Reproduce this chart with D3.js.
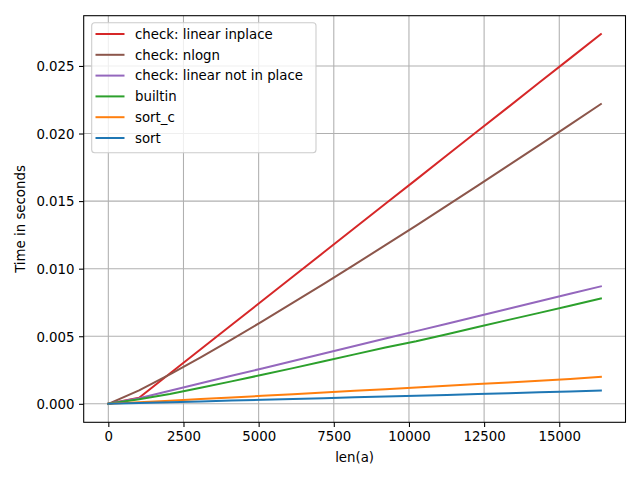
<!DOCTYPE html>
<html>
<head>
<meta charset="utf-8">
<script src="https://cdn.jsdelivr.net/npm/d3@7"></script>
<style>
  html, body { margin: 0; padding: 0; background: #fff; }
  svg { display: block; }
  text { font-family: "DejaVu Sans", sans-serif; }
</style>
</head>
<body>
<svg id="chart" width="640" height="480"></svg>
<script>
// ---- data ----
const sizes = [0, 1024, 2048, 3072, 4096, 5120, 6144, 7168, 8192, 9216, 10240, 11264, 12288, 13312, 14336, 15360, 16384];
const linearInplace = [0, 0.00045, 0.00224, 0.00404, 0.00583, 0.00762, 0.00942, 0.01121, 0.01301, 0.01480, 0.01659, 0.01839, 0.02018, 0.02197, 0.02377, 0.02556, 0.02735];
const nlogn = [0, 0.00099, 0.00218, 0.00344, 0.00475, 0.00610, 0.00748, 0.00888, 0.01030, 0.01174, 0.01319, 0.01466, 0.01614, 0.01764, 0.01914, 0.02066, 0.02218];
const linearNotInPlace = [0, 0.00041, 0.00096, 0.00152, 0.00207, 0.00262, 0.00317, 0.00372, 0.00428, 0.00483, 0.00538, 0.00593, 0.00648, 0.00704, 0.00759, 0.00814, 0.00869];
const builtin = [0, 0.00033, 0.00073, 0.00119, 0.00166, 0.00215, 0.00264, 0.00315, 0.00366, 0.00417, 0.00463, 0.00515, 0.00568, 0.00621, 0.00673, 0.00726, 0.00779];
const sortC = [0, 0.00011, 0.00023, 0.00035, 0.00047, 0.00059, 0.00071, 0.00083, 0.00096, 0.00108, 0.00121, 0.00133, 0.00146, 0.00158, 0.00171, 0.00184, 0.00200];
const sortPy = [0, 0.00006, 0.00012, 0.00018, 0.00024, 0.00030, 0.00036, 0.00042, 0.00048, 0.00054, 0.00060, 0.00066, 0.00072, 0.00078, 0.00085, 0.00091, 0.00098];

const seriesNames = ["check: linear inplace", "check: nlogn", "check: linear not in place", "builtin", "sort_c", "sort"];
const seriesValues = [linearInplace, nlogn, linearNotInPlace, builtin, sortC, sortPy];
const seriesColors = ["#d62728", "#8c564b", "#9467bd", "#2ca02c", "#ff7f0e", "#1f77b4"];

const xTicks = [0, 2500, 5000, 7500, 10000, 12500, 15000];
const yTicks = [0, 0.005, 0.010, 0.015, 0.020, 0.025];
const xLabel = "len(a)";
const yLabel = "Time in seconds";

// ---- layout ----
const svg = d3.select("#chart");
const plotLeft = 83.7, plotRight = 625.5, plotTop = 15.7, plotBottom = 422.3;

const xMax = d3.max(sizes), xMin = d3.min(sizes);
const xPad = (xMax - xMin) * 0.05;
const yMax = d3.max(seriesValues.flat()), yMin = d3.min(seriesValues.flat());
const yPad = (yMax - yMin) * 0.05;

const x = d3.scaleLinear().domain([xMin - xPad, xMax + xPad]).range([plotLeft, plotRight]);
const y = d3.scaleLinear().domain([yMin - yPad, yMax + yPad]).range([plotBottom, plotTop]);

// grid
const grid = svg.append("g");
grid.selectAll("line.gx").data(xTicks).join("line").attr("class", "gx")
  .attr("x1", d => x(d)).attr("x2", d => x(d))
  .attr("y1", plotTop).attr("y2", plotBottom)
  .attr("stroke", "#b0b0b0").attr("stroke-width", 1.07);
grid.selectAll("line.gy").data(yTicks).join("line").attr("class", "gy")
  .attr("y1", d => y(d)).attr("y2", d => y(d))
  .attr("x1", plotLeft).attr("x2", plotRight)
  .attr("stroke", "#b0b0b0").attr("stroke-width", 1.07);

// lines
const line = d3.line().x((d, i) => x(sizes[i])).y(d => y(d));
seriesValues.forEach((vals, k) => {
  svg.append("path")
    .datum(vals)
    .attr("d", line)
    .attr("fill", "none")
    .attr("stroke", seriesColors[k])
    .attr("stroke-width", 2)
    .attr("stroke-linejoin", "round")
    .attr("stroke-linecap", "square");
});

// axes
const xAxis = d3.axisBottom(x).tickValues(xTicks).tickSize(4.67).tickPadding(4.5).tickFormat(d3.format("d"));
const yAxis = d3.axisLeft(y).tickValues(yTicks).tickSize(4.67).tickPadding(4.5).tickFormat(d3.format(".3f"));

const gx = svg.append("g").attr("transform", `translate(0,${plotBottom})`).call(xAxis);
const gy = svg.append("g").attr("transform", `translate(${plotLeft},0)`).call(yAxis);
[gx, gy].forEach(g => {
  g.select(".domain").remove();
  g.selectAll(".tick line").attr("stroke", "#000").attr("stroke-width", 1.07);
  g.selectAll(".tick text").attr("fill", "#000")
    .style("font-family", "DejaVu Sans, sans-serif").style("font-size", "13.33px");
});
gx.selectAll(".tick text").attr("dy", "0.71em");
gy.selectAll(".tick text").attr("dy", "0.36em");

// frame
svg.append("rect")
  .attr("x", plotLeft).attr("y", plotTop)
  .attr("width", plotRight - plotLeft).attr("height", plotBottom - plotTop)
  .attr("fill", "none").attr("stroke", "#000").attr("stroke-width", 1.07);

// axis labels
svg.append("text").attr("x", (plotLeft + plotRight) / 2).attr("y", 462)
  .attr("text-anchor", "middle").style("font-size", "13.33px").attr("fill", "#000")
  .text(xLabel);
svg.append("text")
  .attr("transform", `translate(25,${(plotTop + plotBottom) / 2}) rotate(-90)`)
  .attr("text-anchor", "middle").style("font-size", "13.33px").attr("fill", "#000")
  .text(yLabel);

// legend
const lg = svg.append("g");
lg.append("rect")
  .attr("x", 91.7).attr("y", 22.7).attr("width", 224.3).attr("height", 130)
  .attr("rx", 3).attr("ry", 3)
  .attr("fill", "#fff").attr("fill-opacity", 0.8)
  .attr("stroke", "#cccccc").attr("stroke-width", 1.07);
seriesNames.forEach((name, k) => {
  const cy = 34 + k * 20.8;
  lg.append("line").attr("x1", 95.5).attr("x2", 124.5).attr("y1", cy).attr("y2", cy)
    .attr("stroke", seriesColors[k]).attr("stroke-width", 2);
  lg.append("text").attr("x", 135).attr("y", cy).attr("dy", "0.36em")
    .style("font-size", "13.33px").attr("fill", "#000").text(name);
});
</script>
</body>
</html>
